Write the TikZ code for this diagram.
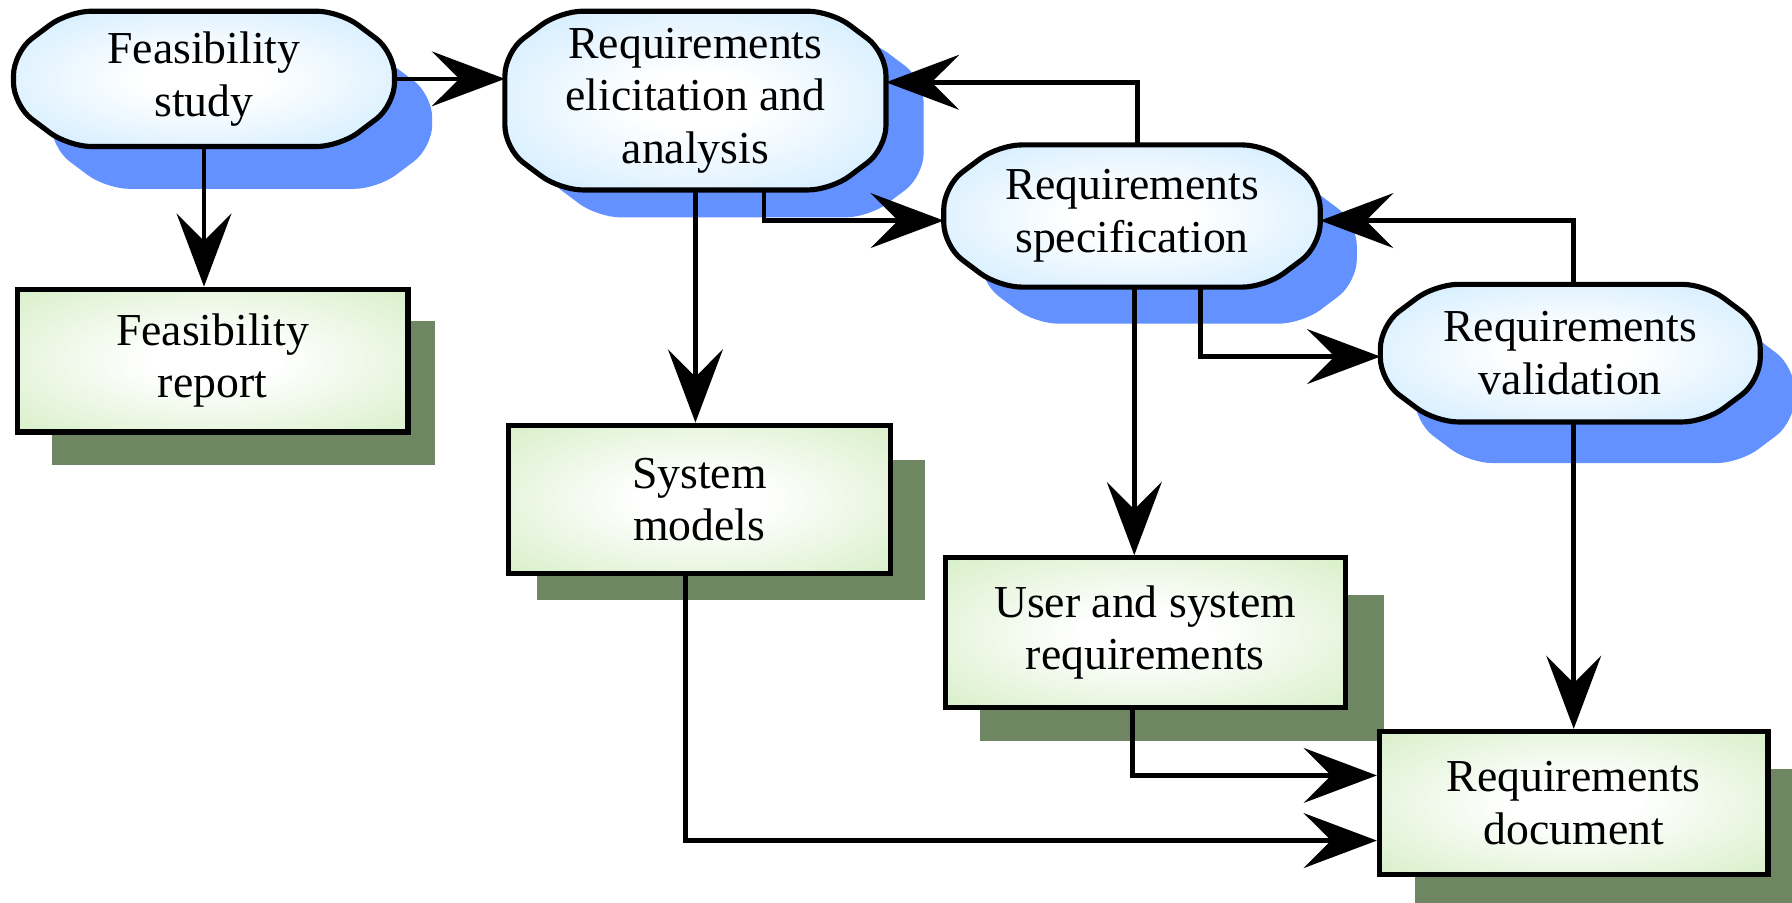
\documentclass[tikz,border=0pt]{standalone}
\usepackage{fontspec}
\setmainfont{Liberation Serif}
\usetikzlibrary{arrows.meta,calc}
\pgfdeclarelayer{shadowlayer}
\pgfdeclarelayer{shapelayer}
\pgfsetlayers{shadowlayer,shapelayer,main}
\definecolor{blueshadow}{RGB}{99,145,255}
\definecolor{greenshadow}{RGB}{110,134,98}
\definecolor{bluefill}{RGB}{190,228,255}
\definecolor{greenfill}{RGB}{204,234,184}
\pgfdeclareradialshading{blueshade}{\pgfpoint{0bp}{0bp}}{color(0bp)=(white); color(8bp)=(white); color(44bp)=(bluefill); color(50bp)=(bluefill)}
\pgfdeclareradialshading{greenshade}{\pgfpoint{0bp}{0bp}}{color(0bp)=(white); color(8bp)=(white); color(44bp)=(greenfill); color(50bp)=(greenfill)}
\newcommand\blobpath[4]{%
  \path[#2, rounded corners=20pt]
    ($(#1.north west)+(#3,#4)+(48pt,0pt)$) -- ($(#1.north east)+(#3,#4)+(-48pt,0pt)$) --
    ($(#1.north east)+(#3,#4)+(0pt,-36pt)$) -- ($(#1.south east)+(#3,#4)+(0pt,36pt)$) --
    ($(#1.south east)+(#3,#4)+(-48pt,0pt)$) -- ($(#1.south west)+(#3,#4)+(48pt,0pt)$) --
    ($(#1.south west)+(#3,#4)+(0pt,36pt)$) -- ($(#1.north west)+(#3,#4)+(0pt,-36pt)$) -- cycle;}
\tikzset{
  txt/.style={align=center, font=\fontsize{40}{46}\selectfont, inner sep=0pt},
  boxnode/.style={txt, draw, line width=4.5pt, shade, shading=greenshade},
  blobfill/.style={draw, line width=4.5pt, shade, shading=blueshade},
  conn/.style={line width=4pt, -{Stealth[length=64pt,width=48pt,inset=24pt]}},
}
\begin{document}
\begin{tikzpicture}[x=1pt,y=-1pt]
\useasboundingbox (0,0) rectangle (1568,790);
% process nodes (text)
\node[txt, minimum width=333pt, minimum height=118pt] (fs) at (178.5,69) {Feasibility\\study};
\node[txt, minimum width=333pt, minimum height=156pt] (re) at (608.5,88) {Requirements\\elicitation and\\analysis};
\node[txt, minimum width=329pt, minimum height=124pt] (rs) at (990.5,189) {Requirements\\specification};
\node[txt, minimum width=332pt, minimum height=120pt] (rv) at (1374,309) {Requirements\\validation};
% document boxes
\node[boxnode, minimum width=342pt, minimum height=125pt] (fr) at (186,315.5) {Feasibility\\report};
\node[boxnode, minimum width=334pt, minimum height=130pt] (sm) at (612,437) {System\\models};
\node[boxnode, minimum width=350pt, minimum height=131pt] (us) at (1002,553.5) {User and system\\requirements};
\node[boxnode, minimum width=340pt, minimum height=125pt] (rd) at (1377,702.5) {Requirements\\document};
% shadows
\begin{pgfonlayer}{shadowlayer}
  \blobpath{fs}{fill=blueshadow}{33pt}{-37pt}
  \blobpath{re}{fill=blueshadow}{33pt}{-24pt}
  \blobpath{rs}{fill=blueshadow}{32pt}{-32pt}
  \blobpath{rv}{fill=blueshadow}{30pt}{-36pt}
  \fill[greenshadow] ($(fr.north west)+(33pt,-30pt)$) rectangle ($(fr.south east)+(21pt,-27pt)$);
  \fill[greenshadow] ($(sm.north west)+(27pt,-33pt)$) rectangle ($(sm.south east)+(28pt,-21pt)$);
  \fill[greenshadow] ($(us.north west)+(33pt,-35pt)$) rectangle ($(us.south east)+(32pt,-27pt)$);
  \fill[greenshadow] ($(rd.north west)+(33pt,-35pt)$) rectangle ($(rd.south east)+(30pt,-30pt)$);
\end{pgfonlayer}
\begin{pgfonlayer}{shapelayer}
  \blobpath{fs}{blobfill}{0pt}{0pt}
  \blobpath{re}{blobfill}{0pt}{0pt}
  \blobpath{rs}{blobfill}{0pt}{0pt}
  \blobpath{rv}{blobfill}{0pt}{0pt}
\end{pgfonlayer}
% connectors
\draw[conn] (fs.east) -- (fs.east -| re.west);
\draw[conn] (fs.south) -- (fs.south |- fr.north);
\draw[conn] (re.south) -- (re.south |- sm.north);
\draw[conn] ([xshift=60pt]re.south) |- ([yshift=-4pt]rs.west);
\draw[conn] ([xshift=5pt]rs.north) |- ([yshift=16pt]re.east);
\draw[conn] ([xshift=2pt]rs.south) -- ([xshift=2pt]rs.south |- us.north);
\draw[conn] ([xshift=60pt]rs.south) |- ([yshift=-3pt]rv.west);
\draw[conn] ([xshift=3pt]rv.north) |- ([yshift=-4pt]rs.east);
\draw[conn] ([xshift=3pt]rv.south) -- ([xshift=3pt]rv.south |- rd.north);
\draw[conn] ([xshift=-11pt]us.south) |- ([yshift=24pt]rd.west);
\draw[conn] ([xshift=-12pt]sm.south) |- ([yshift=-33pt]rd.west);
\end{tikzpicture}
\end{document}
